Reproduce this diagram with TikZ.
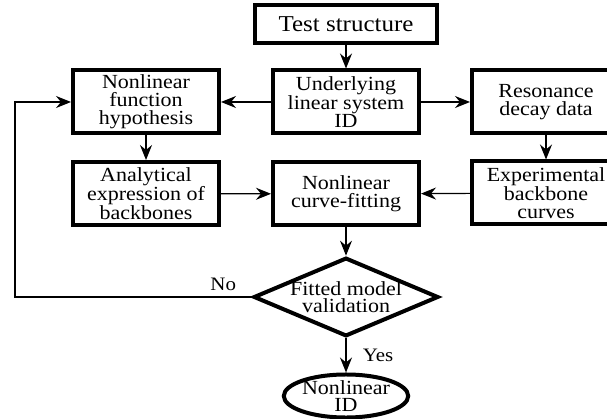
\documentclass[tikz,border=0pt]{standalone}
\usepackage{fontspec}
\setmainfont{Liberation Serif}[FakeStretch=1.1]
\usepackage{tikz}
\usetikzlibrary{positioning}
\usetikzlibrary{arrows.meta}
\usetikzlibrary{shapes.geometric}

\begin{document}
\begin{tikzpicture}[
            > = {Stealth[length=15pt,width=12pt,inset=5pt]}, % arrow head style
            auto,
            node distance = 200pt, % distance between nodes
            line width = 1.2pt % line style
        ]

        \tikzstyle{block}=[
            draw,
            line width = 4pt,
            fill = white,
            align = center,
            inner sep = 2pt,
            minimum width = 146pt,
            minimum height = 63pt,
            font = \fontsize{20}{18}\selectfont
        ]
        \tikzstyle{check}=[block, diamond, aspect = 2.35, inner sep = 0pt, minimum width = 0pt, minimum height = 0pt, font = \fontsize{20}{17}\selectfont]
        \tikzstyle{finish}=[block, ellipse, inner sep = 0pt, minimum width = 124pt, minimum height = 40pt, font = \fontsize{20}{16.5}\selectfont]
        \tikzstyle{tag}=[font = \fontsize{19}{19}\selectfont]

        \useasboundingbox (0pt,0pt) rectangle (607pt,-419pt);

	% system level
        \node[block] (U) at (346pt,-102pt) {Underlying\\linear system\\ID};
        \node[block, minimum width = 182pt, minimum height = 38pt, font = \fontsize{22.7}{24}\selectfont] (TS) [above of = U, node distance = 78pt] {Test structure};
        \node[block] (NF) [left of = U] {Nonlinear\\function\\hypothesis};
        \node[block, minimum width = 148pt] (R) [right of = U] {Resonance\\decay data};

        \path[->] (TS) edge node {} (U);
        \path[->] (U) edge node {} (NF);
        \path[->] (U) edge node {} (R);

	% backbone level
        \node[block] (A) [below of = NF, node distance = 91.5pt] {Analytical\\expression of\\backbones};
        \node[block] (C) [below of = U, node distance = 92pt] {Nonlinear\\curve-fitting};
        \node[block, minimum width = 148pt] (E) [below of = R, node distance = 91pt] {Experimental\\backbone\\curves};

        \path[->] (NF) edge node {} (A);
        \path[->] (R) edge node {} (E);
        \path[->] (A) edge node {} (C);
        \path[->] (E) edge node {} (C);

	% validation
        \node[check] (V) [below of = C, node distance = 103pt] {Fitted model\\validation};
        \node[finish] (ID) [below of = V, node distance = 99pt] {Nonlinear\\ID};
        \coordinate (back) at (15pt,-297pt);

        \path[->] (C) edge node {} (V);
        \path[->] (V) edge node[tag, right = 13pt] {Yes} (ID);
        \draw[->] (V) -- node[tag, above = 2pt, pos = 0.12] {No} (back) |- (NF);

\end{tikzpicture}
\end{document}
